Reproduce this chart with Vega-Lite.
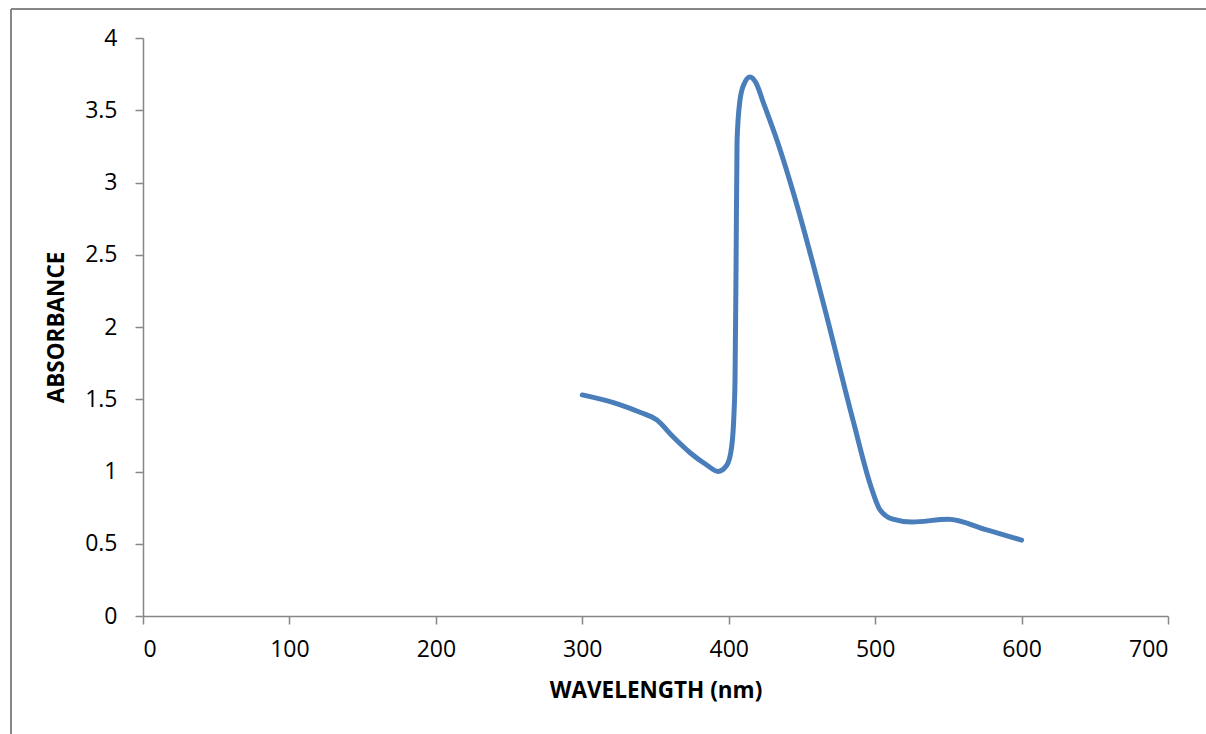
{
  "$schema": "https://vega.github.io/schema/vega-lite/v6.json",
  "width": 1025,
  "height": 578,
  "autosize": {"type": "none"},
  "padding": {"left": 143, "top": 38, "right": 38, "bottom": 118},
  "background": "white",
  "config": {
    "view": {"stroke": null},
    "font": "Open Sans"
  },
  "data": {
    "values": [
      {"wavelength": 300, "absorbance": 1.53},
      {"wavelength": 325, "absorbance": 1.465},
      {"wavelength": 339.4, "absorbance": 1.41},
      {"wavelength": 351, "absorbance": 1.356},
      {"wavelength": 362, "absorbance": 1.24},
      {"wavelength": 373.6, "absorbance": 1.13},
      {"wavelength": 385, "absorbance": 1.045},
      {"wavelength": 392.7, "absorbance": 1.0},
      {"wavelength": 398.8, "absorbance": 1.045},
      {"wavelength": 402, "absorbance": 1.17},
      {"wavelength": 403.6, "absorbance": 1.40},
      {"wavelength": 404.3, "absorbance": 1.63},
      {"wavelength": 405, "absorbance": 2.4},
      {"wavelength": 405.7, "absorbance": 3.29},
      {"wavelength": 407.7, "absorbance": 3.57},
      {"wavelength": 410.4, "absorbance": 3.68},
      {"wavelength": 414.5, "absorbance": 3.73},
      {"wavelength": 418.6, "absorbance": 3.69},
      {"wavelength": 423.4, "absorbance": 3.56},
      {"wavelength": 433.7, "absorbance": 3.27},
      {"wavelength": 445, "absorbance": 2.90},
      {"wavelength": 465, "absorbance": 2.15},
      {"wavelength": 485, "absorbance": 1.35},
      {"wavelength": 497, "absorbance": 0.90},
      {"wavelength": 503, "absorbance": 0.74},
      {"wavelength": 512, "absorbance": 0.67},
      {"wavelength": 525, "absorbance": 0.65},
      {"wavelength": 550, "absorbance": 0.67},
      {"wavelength": 575, "absorbance": 0.60},
      {"wavelength": 600, "absorbance": 0.525}
    ]
  },
  "layer": [
    {
      "mark": {"type": "rule", "color": "#878787", "strokeWidth": 1.5, "clip": false},
      "encoding": {
        "x": {"datum": -90.1, "type": "quantitative", "scale": {"domain": [0, 700]}},
        "y": {"datum": 4.2, "type": "quantitative"},
        "y2": {"datum": -0.9}
      }
    },
    {
      "mark": {"type": "rule", "color": "#878787", "strokeWidth": 1.5, "clip": false},
      "encoding": {
        "x": {"datum": -90.1, "type": "quantitative"},
        "x2": {"datum": 740},
        "y": {"datum": 4.2, "type": "quantitative"}
      }
    },
    {
      "mark": {"type": "line", "color": "#4A7EBB", "strokeWidth": 5, "interpolate": "monotone", "strokeCap": "round", "strokeJoin": "round"},
      "encoding": {
        "x": {
          "field": "wavelength",
          "type": "quantitative",
          "scale": {"domain": [0, 700], "nice": false, "zero": false},
          "axis": {
            "title": "WAVELENGTH (nm)",
            "values": [0, 100, 200, 300, 400, 500, 600, 700],
            "format": "d",
            "grid": false,
            "domainColor": "#878787",
            "domainWidth": 1.5,
            "tickColor": "#878787",
            "tickWidth": 1.5,
            "tickSize": 8,
            "labelFontSize": 23,
            "labelColor": "#000000",
            "labelPadding": 14,
            "titleFontSize": 22.5,
            "titleFontWeight": "bold",
            "titleColor": "#000000",
            "titlePadding": 18
          }
        },
        "y": {
          "field": "absorbance",
          "type": "quantitative",
          "scale": {"domain": [0, 4], "nice": false},
          "axis": {
            "title": "ABSORBANCE",
            "values": [0, 0.5, 1, 1.5, 2, 2.5, 3, 3.5, 4],
            "format": "~g",
            "grid": false,
            "domainColor": "#878787",
            "domainWidth": 1.5,
            "tickColor": "#878787",
            "tickWidth": 1.5,
            "tickSize": 8,
            "labelFontSize": 23,
            "labelColor": "#000000",
            "labelPadding": 18,
            "titleFontSize": 22.5,
            "titleFontWeight": "bold",
            "titleColor": "#000000",
            "titlePadding": 16
          }
        }
      }
    }
  ]
}
